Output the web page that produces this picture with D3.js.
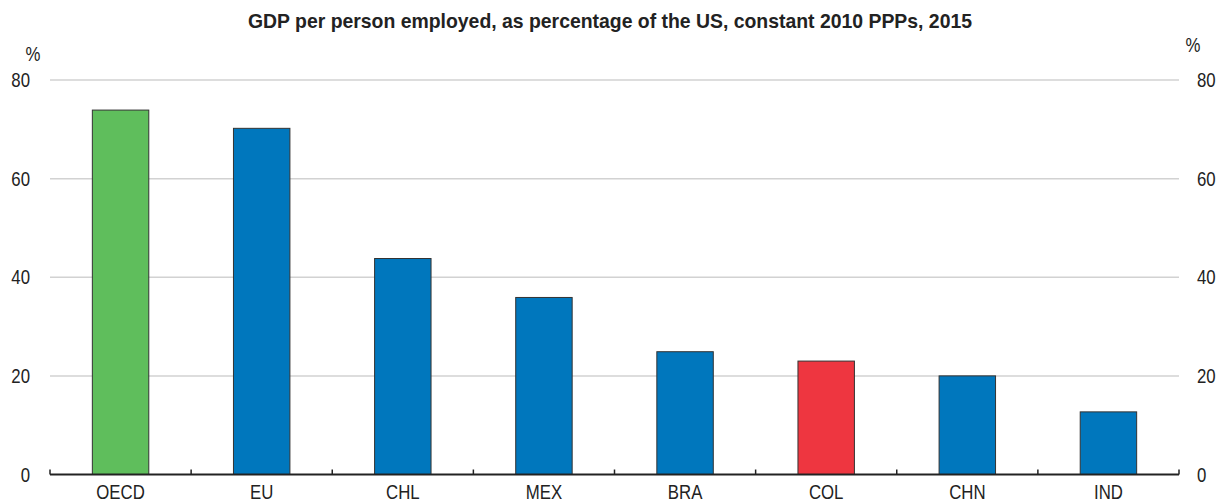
<!DOCTYPE html>
<html>
<head>
<meta charset="utf-8">
<script src="https://cdn.jsdelivr.net/npm/d3@7.9.0/dist/d3.min.js"></script>
<style>
  body { margin: 0; background: #fff; }
  svg text { font-family: "Liberation Sans Narrow", "Arial Narrow", "Liberation Sans", Arial, sans-serif; fill: #222; }
</style>
</head>
<body>
<svg id="chart" width="1224" height="503"></svg>
<script>
// data
const countries = ['OECD', 'EU', 'CHL', 'MEX', 'BRA', 'COL', 'CHN', 'IND'];
const values = [73.9, 70.2, 43.8, 35.9, 24.9, 23.0, 20.0, 12.7];
const barColors = ['#5fbe5c', '#0077bd', '#0077bd', '#0077bd', '#0077bd', '#ee3640', '#0077bd', '#0077bd'];
const yTicks = [0, 20, 40, 60, 80];

const svg = d3.select('#chart');
const plotLeft = 50, plotRight = 1179, plotTop = 80, plotBottom = 474.5;
const narrow = 0.84; // the original font is condensed, squeeze the fallback

let x = d3.scaleBand().domain(countries).range([plotLeft, plotRight]).paddingInner(0.6).paddingOuter(0.3);
let y = d3.scaleLinear().domain([0, 80]).range([plotBottom, plotTop]);

// small helper: squeezed text at (tx, ty)
function label(parent, tx, ty, str, anchor, size) {
  return parent.append('text')
    .attr('transform', `translate(${tx},${ty}) scale(${narrow},1)`)
    .attr('text-anchor', anchor)
    .style('font-size', size + 'px')
    .text(str);
}

// title
svg.append('text')
  .attr('x', 248).attr('y', 28)
  .attr('textLength', 724)
  .attr('lengthAdjust', 'spacingAndGlyphs')
  .style('font-size', '21px').style('font-weight', 'bold')
  .text('GDP per person employed, as percentage of the US, constant 2010 PPPs, 2015');

// gridlines
svg.append('g')
  .selectAll('line')
  .data(yTicks.filter(d => d > 0))
  .join('line')
  .attr('x1', plotLeft).attr('x2', plotRight)
  .attr('y1', d => y(d)).attr('y2', d => y(d))
  .attr('stroke', '#d2d2d2').attr('stroke-width', 1.5);

// left + right tick labels
let leftAxis = svg.append('g');
let rightAxis = svg.append('g');
yTicks.forEach(t => {
  label(leftAxis, 30, y(t) + 7, t, 'end', 20);
  label(rightAxis, 1197, y(t) + 7, t, 'start', 20);
});
label(svg, 33, 61, '%', 'middle', 20);
label(svg, 1193, 52, '%', 'middle', 20);

// bars
svg.append('g')
  .selectAll('rect')
  .data(countries)
  .join('rect')
  .attr('x', d => x(d))
  .attr('width', x.bandwidth())
  .attr('y', (d, i) => y(values[i]))
  .attr('height', (d, i) => y(0) - y(values[i]))
  .attr('fill', (d, i) => barColors[i])
  .attr('stroke', '#333')
  .attr('stroke-width', 1);

// x axis baseline + category ticks
const tickXs = d3.range(countries.length + 1).map(i => plotLeft + i * (plotRight - plotLeft) / countries.length);
svg.append('g')
  .selectAll('line')
  .data(tickXs)
  .join('line')
  .attr('x1', d => d).attr('x2', d => d)
  .attr('y1', plotBottom).attr('y2', plotBottom - 5)
  .attr('stroke', '#222').attr('stroke-width', 1.5);

svg.append('line')
  .attr('x1', plotLeft).attr('x2', plotRight)
  .attr('y1', plotBottom).attr('y2', plotBottom)
  .attr('stroke', '#222').attr('stroke-width', 2);

let xLabels = svg.append('g');
countries.forEach(c => label(xLabels, x(c) + x.bandwidth() / 2, 499, c, 'middle', 20));
</script>
</body>
</html>
